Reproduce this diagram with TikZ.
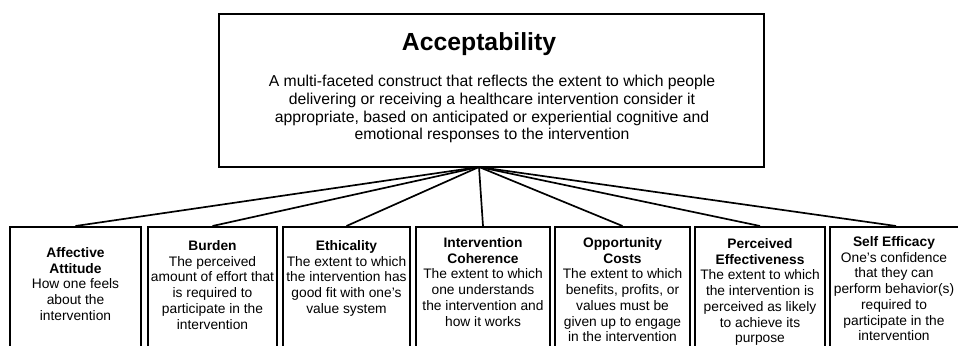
\documentclass[tikz,border=0pt]{standalone}
\usepackage{fontspec}
\setmainfont{Liberation Sans}
\usetikzlibrary{positioning}

\tikzset{
  box/.style={draw=black,line width=1.3pt,inner sep=0pt},
  cardbox/.style={box,anchor=north,minimum height=200*0.7113pt},
  cardtext/.style={anchor=north,align=center,inner sep=0pt,font=\fontsize{9.8}{11.2}\selectfont},
  link/.style={line width=1.2pt},
}

\begin{document}
\begin{tikzpicture}[x=0.025cm,y=-0.025cm]
  \useasboundingbox (0,0) rectangle (958,346);
  \clip (0,0) rectangle (958,346);
  % main construct
  \node[box,minimum width=545*0.7113pt,minimum height=153*0.7113pt] (acc) at (491.5,90.5) {};
  \node[anchor=base,inner sep=0pt,font=\fontsize{17.6}{20}\selectfont\bfseries] (acc-t) at (479,51) {Acceptability};
  \node[anchor=north,align=center,inner sep=0pt,font=\fontsize{11.2}{12.6}\selectfont] (acc-d) at (492,75)
    {A multi-faceted construct that reflects the extent to which people\\
     delivering or receiving a healthcare intervention consider it\\
     appropriate, based on anticipated or experiential cognitive and\\
     emotional responses to the intervention};
  \coordinate (hub) at (479,167);
  % component constructs
  \node[cardbox,minimum width=131*0.7113pt] (aff) at (75.5,226) {};
  \node[cardbox,minimum width=129*0.7113pt] (bur) at (212.5,226) {};
  \node[cardbox,minimum width=127*0.7113pt] (eth) at (346.5,226) {};
  \node[cardbox,minimum width=134*0.7113pt] (coh) at (483,226) {};
  \node[cardbox,minimum width=135*0.7113pt] (opp) at (622.5,226) {};
  \node[cardbox,minimum width=130*0.7113pt] (eff) at (760,226) {};
  \node[cardbox,minimum width=132*0.7113pt] (sef) at (896,226) {};
  \node[cardtext] (aff-t) at (75.5,247)
    {\textbf{Affective}\\\textbf{Attitude}\\How one feels\\about the\\intervention};
  \node[cardtext] (bur-t) at (212.5,240)
    {\textbf{Burden}\\The perceived\\amount of effort that\\is required to\\participate in the\\intervention};
  \node[cardtext] (eth-t) at (346.5,240)
    {\textbf{Ethicality}\\The extent to which\\the intervention has\\good fit with one's\\value system};
  \node[cardtext] (coh-t) at (483,237)
    {\textbf{Intervention}\\\textbf{Coherence}\\The extent to which\\one understands\\the intervention and\\how it works};
  \node[cardtext] (opp-t) at (622.5,237)
    {\textbf{Opportunity}\\\textbf{Costs}\\The extent to which\\benefits, profits, or\\values must be\\given up to engage\\in the intervention};
  \node[cardtext] (eff-t) at (760,238)
    {\textbf{Perceived}\\\textbf{Effectiveness}\\The extent to which\\the intervention is\\perceived as likely\\to achieve its\\purpose};
  \node[cardtext] (sef-t) at (894,236)
    {\textbf{Self Efficacy}\\One's confidence\\that they can\\perform behavior(s)\\required to\\participate in the\\intervention};
  \foreach \n in {aff,bur,eth,coh,opp,eff,sef}
    \draw[link] (hub) -- (\n.north);
\end{tikzpicture}
\end{document}
